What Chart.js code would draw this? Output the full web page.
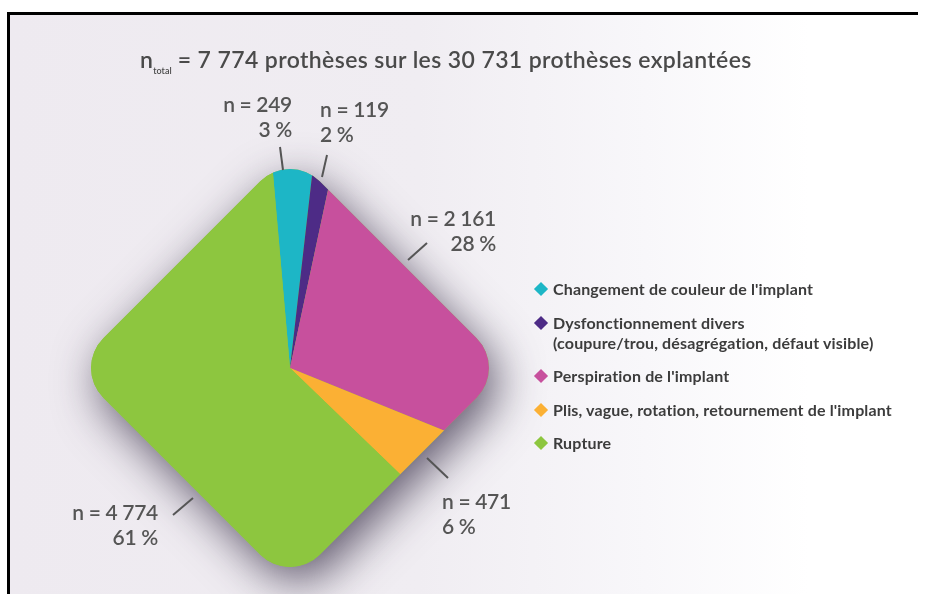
<!DOCTYPE html>
<html lang="fr">
<head>
<meta charset="utf-8">
<script src="https://cdn.jsdelivr.net/npm/chart.js@4.4.1/dist/chart.umd.min.js"></script>
<style>
  html, body { margin: 0; padding: 0; background: #fff; }
  body { width: 925px; height: 594px; position: relative; overflow: hidden;
    font-family: Lato, "Open Sans", sans-serif; }
  #frame { position: absolute; left: 7px; top: 12px; width: 908px; height: 600px;
    border-top: 3px solid #000; border-left: 3px solid #000;
    background: linear-gradient(90deg, #eeeaf0 0%, #f0edf2 45%, #f8f7fa 70%, #ffffff 88%); }
  #pie { position: absolute; left: 0; top: 0; }
  #title { position: absolute; left: 140px; top: 45px; font-size: 23px; font-weight: 600;
    color: #4a4a4a; white-space: nowrap; letter-spacing: 0.4px; }
  #title sub { font-size: 9px; vertical-align: -6px; letter-spacing: 0; }
  .lbl { position: absolute; font-size: 21px; line-height: 25px; font-weight: 600;
    color: #555; white-space: nowrap; letter-spacing: -0.3px; }
  #legend { position: absolute; left: 534px; top: 279px; margin: 0; padding: 0; list-style: none;
    font-size: 16px; font-weight: 700; color: #3c3c3c; letter-spacing: 0.15px; }
  #legend li { position: relative; padding-left: 19px; white-space: pre-line; line-height: 20px; margin-bottom: 13.5px; }
  #legend li span { position: absolute; left: 2px; top: 5px; width: 10px; height: 10px; transform: rotate(45deg); }
</style>
</head>
<body>
<div id="frame"></div>
<canvas id="pie" width="925" height="594"></canvas>
<div id="title"></div>
<div id="labels"></div>
<ul id="legend"></ul>
<script>
const categories = [
  "Changement de couleur de l'implant",
  "Dysfonctionnement divers\n(coupure/trou, désagrégation, défaut visible)",
  "Perspiration de l'implant",
  "Plis, vague, rotation, retournement de l'implant",
  "Rupture",
];
const counts = [249, 119, 2161, 471, 4774];
const totalExplanted = 30731;
const colors = ["#1db6c6", "#4d2b86", "#c7509d", "#fbb034", "#8dc63f"];

// label placement (x = anchor edge, y = top of first line)
const labelPos = [
  { x: 292, y: 91, align: "right" },
  { x: 320, y: 96, align: "left" },
  { x: 496, y: 205, align: "right" },
  { x: 442, y: 488, align: "left" },
  { x: 158, y: 499, align: "right" },
];
const leaders = [
  [280, 147, 283, 170],
  [327, 155, 322, 177],
  [427, 243, 408, 260],
  [427, 458, 448, 478],
  [173, 515, 193, 498],
];

const fmtInt = (v) => String(v).replace(/\B(?=(\d{3})+(?!\d))/g, " ");
const total = counts.reduce((a, b) => a + b, 0);

document.getElementById("title").innerHTML =
  `n<sub>total</sub> = ${fmtInt(total)} prothèses sur les ${fmtInt(totalExplanted)} prothèses explantées`;

const labelsBox = document.getElementById("labels");
counts.forEach((c, i) => {
  const p = labelPos[i];
  const div = document.createElement("div");
  div.className = "lbl";
  div.style.top = `${p.y}px`;
  div.style.textAlign = p.align;
  if (p.align === "right") div.style.right = `${925 - p.x}px`;
  else div.style.left = `${p.x}px`;
  div.innerHTML = `n = ${fmtInt(c)}<br>${Math.round((c / total) * 100)} %`;
  labelsBox.appendChild(div);
});

const legend = document.getElementById("legend");
categories.forEach((name, i) => {
  const li = document.createElement("li");
  li.innerHTML = `<span style="background:${colors[i]}"></span>`;
  li.appendChild(document.createTextNode(name));
  legend.appendChild(li);
});

// rounded diamond outline
const SHAPE = { side: 306, corner: 42 };
function diamondPath(ctx, cx, cy) {
  ctx.save();
  ctx.translate(cx, cy);
  ctx.rotate(Math.PI / 4);
  ctx.beginPath();
  ctx.roundRect(-SHAPE.side / 2, -SHAPE.side / 2, SHAPE.side, SHAPE.side, SHAPE.corner);
  ctx.restore();
}

const diamondClip = {
  id: "diamondClip",
  beforeDatasetsDraw(chart) {
    const { ctx } = chart;
    const arc = chart.getDatasetMeta(0).data[0];
    ctx.save();
    ctx.save();
    diamondPath(ctx, arc.x, arc.y);
    ctx.shadowColor = "rgba(50,40,65,0.75)";
    ctx.shadowBlur = 45;
    ctx.shadowOffsetX = 8;
    ctx.shadowOffsetY = 14;
    ctx.fillStyle = colors[4];
    ctx.fill();
    ctx.restore();
    diamondPath(ctx, arc.x, arc.y);
    ctx.clip();
  },
  afterDatasetsDraw(chart) {
    const { ctx } = chart;
    ctx.restore();
    ctx.save();
    ctx.strokeStyle = "#555";
    ctx.lineWidth = 2;
    leaders.forEach(([x1, y1, x2, y2]) => {
      ctx.beginPath();
      ctx.moveTo(x1, y1);
      ctx.lineTo(x2, y2);
      ctx.stroke();
    });
    ctx.restore();
  },
};

new Chart(document.getElementById("pie"), {
  type: "pie",
  data: {
    labels: categories,
    datasets: [{
      data: counts,
      backgroundColor: colors,
      borderWidth: 0,
      radius: 206,
    }],
  },
  options: {
    responsive: false,
    animation: false,
    events: [],
    rotation: -5,
    radius: 206,
    layout: { padding: { left: 0, right: 345, top: 142, bottom: 0 } },
    plugins: { legend: { display: false }, tooltip: { enabled: false } },
  },
  plugins: [diamondClip],
});
</script>
</body>
</html>
